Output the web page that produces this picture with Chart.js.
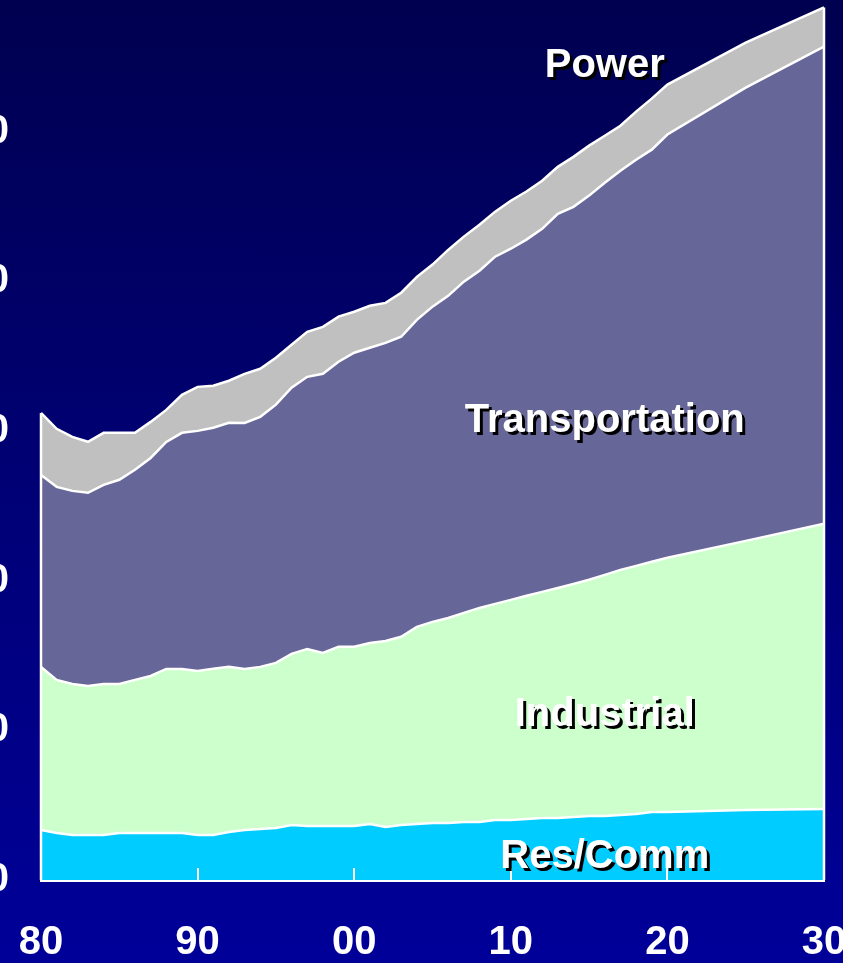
<!DOCTYPE html>
<html>
<head>
<meta charset="utf-8">
<script src="https://cdn.jsdelivr.net/npm/chart.js@4.4.1/dist/chart.umd.min.js"></script>
<style>
  html, body { margin: 0; padding: 0; overflow: hidden; }
  body { width: 843px; height: 963px; background: linear-gradient(to bottom, #000050 0%, #000099 100%); }
  canvas { display: block; margin-left: -40px; }
</style>
</head>
<body>
<canvas id="myChart" width="883" height="963"></canvas>
<script>
const years = [1980, 1981, 1982, 1983, 1984, 1985, 1986, 1987, 1988, 1989,
               1990, 1991, 1992, 1993, 1994, 1995, 1996, 1997, 1998, 1999,
               2000, 2001, 2002, 2003, 2004, 2005, 2006, 2007, 2008, 2009,
               2010, 2011, 2012, 2013, 2014, 2015, 2016, 2017, 2018, 2019,
               2020, 2025, 2030]

const resComm = [3.34, 3.14, 3.01, 3.01, 3.01, 3.14, 3.14, 3.14, 3.14, 3.14,
                 3.01, 3.01, 3.21, 3.34, 3.41, 3.48, 3.68, 3.61, 3.61, 3.61,
                 3.61, 3.74, 3.54, 3.68, 3.74, 3.81, 3.81, 3.88, 3.88, 4.01,
                 4.01, 4.08, 4.14, 4.14, 4.21, 4.28, 4.28, 4.34, 4.41, 4.55,
                 4.55, 4.68, 4.75]

const industrial = [10.90, 10.23, 10.09, 9.96, 10.09, 9.96, 10.23, 10.49, 10.96, 10.96,
                    10.96, 11.10, 11.03, 10.76, 10.83, 11.03, 11.43, 11.83, 11.56, 11.97,
                    11.97, 12.10, 12.43, 12.57, 13.17, 13.44, 13.70, 13.97, 14.30, 14.44,
                    14.71, 14.91, 15.11, 15.37, 15.57, 15.78, 16.11, 16.38, 16.58, 16.71,
                    16.98, 17.98, 19.05]

const transportation = [12.83, 12.90, 12.90, 12.90, 13.30, 13.64, 14.04, 14.57, 15.17, 15.78,
                        16.04, 16.11, 16.31, 16.44, 16.71, 17.25, 17.78, 18.18, 18.65, 19.05,
                        19.65, 19.72, 19.92, 20.05, 20.52, 21.06, 21.52, 22.13, 22.53, 23.20,
                        23.46, 23.80, 24.26, 25.00, 25.20, 25.67, 26.20, 26.67, 27.14, 27.54,
                        28.28, 30.28, 31.89]

const power = [4.14, 3.88, 3.61, 3.41, 3.48, 3.14, 2.47, 2.41, 2.14, 2.54,
               2.94, 2.81, 2.81, 3.28, 3.21, 3.14, 2.87, 3.01, 3.14, 3.01,
               2.74, 2.81, 2.67, 2.94, 2.87, 2.81, 3.07, 3.01, 3.07, 3.01,
               3.21, 3.21, 3.21, 3.14, 3.34, 3.34, 3.14, 3.01, 3.21, 3.41,
               3.34, 3.01, 2.61]

const seriesNames = ["Res/Comm", "Industrial", "Transportation", "Power"]
const yTicks = [0, 10, 20, 30, 40, 50]
const xTicks = [1980, 1990, 2000, 2010, 2020, 2030]

const FONT = '"Liberation Sans", Arial, sans-serif'
Chart.defaults.font.family = FONT

const allSeries = [resComm, industrial, transportation, power]
const colors = ["#00CCFF", "#CCFFCC", "#666699", "#C0C0C0"]

function toPoints(values) {
    return years.map((yr, i) => ({ x: yr, y: values[i] }))
}

// white outline on the two ends of the stack, inner tick marks, area names
const edgesAndNames = {
    id: 'edgesAndNames',
    afterDatasetsDraw(chart) {
        const { ctx, scales: { x, y } } = chart
        ctx.save()
        ctx.strokeStyle = '#fff'
        ctx.lineWidth = 2.5
        ;[0, years.length - 1].forEach(i => {
            const total = allSeries.reduce((s, arr) => s + arr[i], 0)
            const px = x.getPixelForValue(years[i])
            ctx.beginPath()
            ctx.moveTo(px, y.getPixelForValue(0))
            ctx.lineTo(px, y.getPixelForValue(total))
            ctx.stroke()
        })

        ctx.lineWidth = 2
        xTicks.forEach(v => {
            const px = Math.round(x.getPixelForValue(v))
            ctx.beginPath()
            ctx.moveTo(px, y.getPixelForValue(0))
            ctx.lineTo(px, y.getPixelForValue(0) - 12)
            ctx.stroke()
        })

        const spots = [[2016, 1.55], [2016, 11.0], [2016, 30.65], [2016, 54.4]]
        ctx.font = 'bold 40px ' + FONT
        ctx.textAlign = 'center'
        ctx.textBaseline = 'middle'
        ctx.shadowColor = '#000'
        ctx.shadowOffsetX = 3
        ctx.shadowOffsetY = 3
        ctx.shadowBlur = 0
        ctx.fillStyle = '#fff'
        seriesNames.forEach((name, i) => {
            ctx.fillText(name, x.getPixelForValue(spots[i][0]), y.getPixelForValue(spots[i][1]))
        })
        ctx.restore()
    }
}

const ctx = document.getElementById("myChart").getContext("2d")

const chart = new Chart(ctx, {
    type: 'line',
    data: {
        datasets: allSeries.map((arr, i) => ({
            label: seriesNames[i],
            data: toPoints(arr),
            backgroundColor: colors[i],
            borderColor: '#fff',
            borderWidth: 2.5,
            pointRadius: 0,
            tension: 0,
            fill: i === 0 ? 'origin' : '-1'
        }))
    },
    options: {
        responsive: false,
        animation: false,
        devicePixelRatio: 1,
        layout: { padding: { left: 0, right: 19, top: 0, bottom: 0 } },
        plugins: {
            legend: { display: false },
            tooltip: { enabled: false }
        },
        scales: {
            x: {
                type: 'linear',
                position: 'bottom',
                min: 1980,
                max: 2030,
                z: 1,
                afterBuildTicks: scale => { scale.ticks = xTicks.map(v => ({ value: v })) },
                afterFit: scale => {
                    scale.height = 83
                    scale.paddingLeft = 0
                    scale.paddingRight = 0
                },
                grid: { display: false, drawTicks: false },
                border: { display: true, color: '#fff', width: 3 },
                ticks: {
                    color: '#fff',
                    font: { size: 40, weight: 'bold' },
                    padding: 39,
                    maxRotation: 0,
                    autoSkip: false,
                    callback: v => String(v % 100).padStart(2, '0')
                }
            },
            y: {
                stacked: true,
                min: 0,
                max: 58.8,
                afterBuildTicks: scale => { scale.ticks = yTicks.map(v => ({ value: v })) },
                afterFit: scale => {
                    scale.width = 81
                    scale.paddingTop = 0
                    scale.paddingBottom = 0
                },
                grid: { display: false, drawTicks: false },
                border: { display: false },
                ticks: {
                    display: true,
                    autoSkip: false,
                    color: '#fff',
                    font: { size: 40, weight: 'bold' },
                    padding: 32,
                    callback: v => String(v)
                }
            }
        }
    },
    plugins: [edgesAndNames]
})
</script>
</body>
</html>
